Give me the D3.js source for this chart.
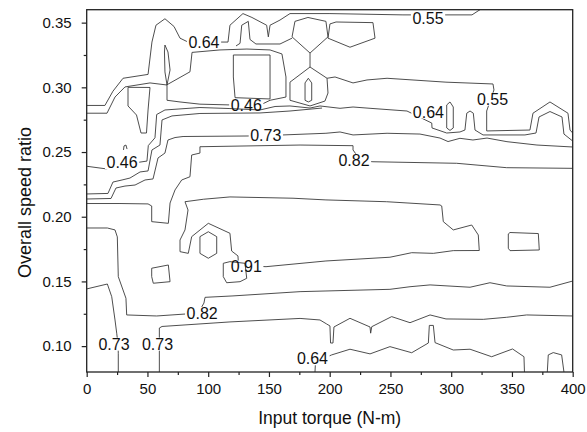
<!DOCTYPE html>
<html>
<head>
<meta charset="utf-8">
<script src="https://cdn.jsdelivr.net/npm/d3@7"></script>
<style>
  html, body { margin: 0; padding: 0; background: #fff; }
  svg { display: block; font-family: Arial, "Liberation Sans", sans-serif; }
</style>
</head>
<body>
<svg id="chart" width="587" height="432"></svg>
<script>
// ---- Axis ticks ----
const torqueTicks = [0, 50, 100, 150, 200, 250, 300, 350, 400];
const torqueMinorTicks = [25, 75, 125, 175, 225, 275, 325, 375];
const ratioTicks = [0.10, 0.15, 0.20, 0.25, 0.30, 0.35];
const ratioMinorTicks = [0.125, 0.175, 0.225, 0.275, 0.325];

// ---- Efficiency iso-lines, points are [input torque (N-m), overall speed ratio] ----
const edgeUpper = [[0,0.286],[15,0.286],[21.6,0.297],[29.9,0.307],[50.5,0.310],[53.7,0.335],[57,0.348],[64.4,0.353],[71.9,0.347],[76.8,0.338],[83.4,0.335],[110.5,0.335],[116.3,0.335],[117.9,0.348],[128.6,0.357],[136,0.354],[148.1,0.348],[149.5,0.339],[150.9,0.348],[159.1,0.352],[167.3,0.357],[200.2,0.357],[260.3,0.356],[296.5,0.356],[317.1,0.356],[323.7,0.360]];
const edgeUpperInner = [[0,0.280],[16.7,0.280],[23.3,0.2925],[31.5,0.3003],[52.1,0.3034],[66.1,0.3018]];
const pocketFlask = [[34,0.300],[52.1,0.2999],[50.5,0.2825],[49.2,0.2647],[44.7,0.2647],[41,0.2786],[34,0.2856],[34,0.300]];
const pocketLens = [[64.4,0.3327],[66.9,0.3273],[68.6,0.3134],[66.1,0.3018],[64.4,0.3119],[64,0.3273],[64.4,0.3327]];
const loopRect = [[66.1,0.302],[85,0.312],[86.7,0.327],[109.7,0.3289],[131.9,0.3296],[150.9,0.3289],[160.7,0.3258],[164,0.308],[164,0.2925],[150.9,0.290],[144.3,0.287],[117.9,0.2864],[93.2,0.287],[76.8,0.2887],[66.1,0.290],[66.1,0.302]];
const innerRect = [[120.7,0.325],[150.9,0.325],[150.9,0.291],[122.1,0.292],[120.7,0.308],[120.7,0.325]];
const topBump = [[122.9,0.332],[126.2,0.334],[127.6,0.348],[133,0.351],[134.4,0.337],[139.3,0.3335],[159.1,0.3335],[169,0.338]];
const hexLeft = [[169,0.339],[171.4,0.351],[182.1,0.354],[196.9,0.351],[198.6,0.339],[183.8,0.3265],[169,0.339]];
const hexRight = [[198.6,0.338],[200.2,0.349],[205.2,0.3505],[235.6,0.350],[237.3,0.338],[216.7,0.331],[198.6,0.338]];
const stem = [[183.8,0.3265],[183.8,0.3157]];
const house = [[167.3,0.304],[183.8,0.3157],[197.8,0.307],[198.6,0.2956],[196.1,0.2894],[183.8,0.2856],[167.3,0.290],[167.3,0.304]];
const houseOval = [[179.7,0.3034],[182.4,0.307],[185.2,0.3034],[185.2,0.290],[182.4,0.2887],[179.7,0.290],[179.7,0.3034]];
const ridge055 = [[197.8,0.307],[204.4,0.308],[219.2,0.3034],[230.7,0.3057],[247.2,0.307],[295.7,0.304],[334.4,0.3026],[335.2,0.298],[329.2,0.2817],[329.2,0.2663],[364.8,0.267],[367.3,0.280],[381.3,0.2887],[396.1,0.280],[397.8,0.267],[400,0.2647]];
const band046 = [[0,0.239],[15.9,0.237],[42.2,0.242],[49.6,0.243],[50.7,0.255],[56.2,0.261],[57.6,0.279],[64.4,0.2825],[93.2,0.2844],[117.9,0.2836],[142.6,0.2825],[155,0.2852],[167.3,0.2856],[183.8,0.284],[192,0.2856],[208.5,0.2838],[219.2,0.2848],[233.2,0.2838],[263.6,0.2817],[284,0.2724],[284.2,0.2686],[296.3,0.2647],[307.2,0.2655],[311.3,0.267],[312.8,0.280],[315.5,0.2817],[318.2,0.280],[319.6,0.267],[326.2,0.2632],[360.7,0.2632],[369.8,0.2647],[372.3,0.2771],[381.3,0.2813],[391.2,0.2771],[392.8,0.2639],[400,0.2585]];
const lensRight = [[296.3,0.2864],[299,0.2887],[301.7,0.2848],[301.7,0.2686],[299,0.2667],[296.3,0.2686],[296.3,0.2864]];
const step1 = [[0,0.2176],[17.5,0.218],[21.6,0.2268],[29.1,0.2284],[35.6,0.2299],[43.9,0.2346],[50.5,0.2354],[53.7,0.2516],[60.3,0.2554],[62,0.2748],[70.2,0.2779],[93.2,0.2798],[142.6,0.2802],[167.3,0.2817],[193.7,0.284]];
const step073 = [[0,0.2137],[20,0.2141],[24.1,0.2222],[31.5,0.2237],[39.8,0.2245],[48,0.2284],[54.6,0.2292],[58.7,0.2454],[64.4,0.2492],[66.9,0.2593],[72.7,0.2612],[79.3,0.262],[132.8,0.2624],[161.6,0.2632],[196.9,0.2645],[208.5,0.2655],[219.2,0.2632],[247.2,0.2645],[274.3,0.2639],[290.8,0.2608],[297.4,0.2581],[307.2,0.2606],[317.9,0.2593],[329.5,0.2608],[345.9,0.258],[370.6,0.2554],[400,0.2539]];
const upper082 = [[0,0.2102],[27.4,0.2102],[50.5,0.2099],[53.5,0.2083],[53.5,0.1962],[67.2,0.1949],[68.6,0.2106],[72.7,0.2207],[78.2,0.2284],[85,0.2309],[86.4,0.2477],[93.2,0.2492],[93.2,0.2541],[175.6,0.2554],[219.2,0.2549],[219.2,0.2516],[225.7,0.2431],[235.6,0.2425],[304.5,0.2413],[345.7,0.2379],[400,0.2374]];
const peak091 = [[80.9,0.2116],[83.4,0.2052],[80.9,0.1898],[76.8,0.182],[76.8,0.173],[83.6,0.1717],[86.4,0.1846],[100.1,0.1949],[117.9,0.1872],[119.3,0.1735],[124.5,0.1697],[124.8,0.165],[136,0.1619],[147.6,0.1614],[196.9,0.1658],[249.6,0.1687],[267.5,0.1722],[285.3,0.1717],[301.7,0.1738],[323.1,0.1739],[322.3,0.1859],[316.9,0.1936],[301.7,0.1898],[293.5,0.1962],[292.2,0.2083],[290.8,0.2091],[246.9,0.2116],[196.9,0.213],[169.8,0.2143],[117.9,0.2153],[96,0.2135],[80.9,0.2116]];
const hexPeak = [[93.2,0.1846],[100.1,0.1884],[107,0.1846],[107,0.1717],[100.1,0.1679],[93.2,0.1717],[93.2,0.1846]];
const spotNear091 = [[112.4,0.164],[117.9,0.1653],[130.3,0.164],[131.7,0.1524],[126.2,0.1498],[115.2,0.149],[112.4,0.1537],[112.4,0.164]];
const spotLeft = [[53.5,0.1602],[67.2,0.1627],[68.6,0.1498],[54.8,0.1486],[53.5,0.1537],[53.5,0.1602]];
const spotRight = [[348.4,0.1878],[371.7,0.187],[372.5,0.1743],[348.4,0.1738],[347,0.1756],[347,0.1867],[348.4,0.1878]];
const lower082 = [[0,0.1913],[17,0.1913],[23.3,0.1898],[25.2,0.1844],[26,0.1537],[32.3,0.137],[32.9,0.1241],[57.6,0.1233],[80.9,0.1248],[93.2,0.1279],[96.5,0.1333],[97.4,0.1377],[120.4,0.1388],[175.6,0.1421],[249.6,0.1439],[266.1,0.1459],[282.6,0.1473],[315.5,0.1455],[331.9,0.149],[345.7,0.1465],[381.3,0.1455],[400,0.1503]];
const left073 = [[0,0.1442],[17,0.148],[20.6,0.1382],[23.3,0.1202],[24.7,0.110],[25.8,0.101],[26,0.0945],[26,0.08]];
const mid073 = [[59.8,0.08],[59.8,0.097],[59.8,0.114],[62,0.1152],[117.9,0.1187],[175.6,0.1214],[192,0.1202],[197.5,0.1171],[200.2,0.1156],[200.7,0.1024],[202.7,0.1024],[203.5,0.1148],[216.7,0.1215],[233.2,0.1148],[233.7,0.110],[234.6,0.115],[251,0.1228],[266.1,0.1181],[282.6,0.1241],[295.7,0.121],[326.4,0.1207],[345.7,0.1223],[362.1,0.1241],[400,0.1233]];
const low064 = [[187.9,0.08],[188.3,0.0877],[201.6,0.0932],[216.7,0.0976],[233.2,0.094],[249.6,0.0996],[267.5,0.0949],[281.2,0.1024],[282,0.116],[285.3,0.116],[286.7,0.1027],[301.7,0.097],[315.5,0.0976],[333.3,0.0918],[350.5,0.0978],[359.9,0.0918],[360.3,0.08]];
const bumpRight = [[379.1,0.08],[379.9,0.0932],[384,0.095],[390.9,0.0932],[392.8,0.08]];
const tinyArc = [[30.3,0.2516],[30.7,0.2547],[32.3,0.2554],[33.2,0.2523]];

// ---- Level labels placed on the iso-lines ----
const contourLabels = [
  { text: "0.64", torque: 96.5,  ratio: 0.335,  line: "edgeUpper" },
  { text: "0.55", torque: 280.9, ratio: 0.3536, line: "edgeUpper" },
  { text: "0.46", torque: 131.3, ratio: 0.2864, line: "loopRect" },
  { text: "0.46", torque: 29.1,  ratio: 0.242,  line: "band046" },
  { text: "0.64", torque: 281.2, ratio: 0.2811, line: "band046" },
  { text: "0.55", torque: 334,   ratio: 0.291,  line: "ridge055" },
  { text: "0.73", torque: 147.4, ratio: 0.2626, line: "step073" },
  { text: "0.82", torque: 220,   ratio: 0.2439, line: "upper082" },
  { text: "0.91", torque: 131.3, ratio: 0.1614, line: "peak091" },
  { text: "0.82", torque: 95,    ratio: 0.1255, line: "lower082" },
  { text: "0.73", torque: 22.5,  ratio: 0.1017, line: "left073" },
  { text: "0.73", torque: 58.3,  ratio: 0.1017, line: "mid073" },
  { text: "0.64", torque: 185.8, ratio: 0.0904, line: "low064" }
];

// Table of the iso-lines for drawing
const isoLines = {
  edgeUpper, edgeUpperInner, pocketFlask, pocketLens, loopRect, innerRect, topBump,
  hexLeft, hexRight, stem, house, houseOval, ridge055, band046, lensRight, step1,
  step073, upper082, peak091, hexPeak, spotNear091, spotLeft, spotRight, lower082,
  left073, mid073, low064, bumpRight, tinyArc
};

// ---- Layout ----
const W = 587, H = 432;
const plot = { left: 86.7, right: 572.7, top: 9.7, bottom: 372 };

const svg = d3.select("#chart");
const defs = svg.append("defs");

const x = d3.scaleLinear().domain([0, 400]).range([plot.left, plot.right]);
const y = d3.scaleLinear().domain([0.08, 0.36]).range([plot.bottom, plot.top]);

defs.append("clipPath").attr("id", "plotClip")
  .append("rect")
  .attr("x", plot.left).attr("y", plot.top)
  .attr("width", plot.right - plot.left).attr("height", plot.bottom - plot.top);

const lineGen = d3.line().x(d => x(d[0])).y(d => y(d[1]));

// Iso-lines
const gLines = svg.append("g").attr("clip-path", "url(#plotClip)");
const paths = {};
Object.entries(isoLines).forEach(([name, pts]) => {
  paths[name] = gLines.append("path")
    .attr("d", lineGen(pts))
    .attr("fill", "none")
    .attr("stroke", "#3a3a3a")
    .attr("stroke-width", 0.9)
    .attr("stroke-linejoin", "round");
});

// Level labels
const gLabels = svg.append("g");
const labelNodes = contourLabels.map(l => {
  const t = gLabels.append("text")
    .attr("x", x(l.torque))
    .attr("y", y(l.ratio))
    .attr("dy", "0.36em")
    .attr("text-anchor", "middle")
    .attr("font-size", 16)
    .attr("fill", "#111")
    .text(l.text);
  return { l, box: t.node().getBBox() };
});

// Break each labelled line where its labels sit
const byLine = d3.group(labelNodes, d => d.l.line);
byLine.forEach((items, name) => {
  const m = defs.append("mask").attr("id", "mask_" + name)
    .attr("maskUnits", "userSpaceOnUse")
    .attr("x", 0).attr("y", 0).attr("width", W).attr("height", H);
  m.append("rect").attr("x", 0).attr("y", 0).attr("width", W).attr("height", H).attr("fill", "#fff");
  items.forEach(({ box }) => {
    m.append("rect")
      .attr("x", box.x - 1.5).attr("y", box.y + 2)
      .attr("width", box.width + 3).attr("height", box.height - 4)
      .attr("fill", "#000");
  });
  paths[name].attr("mask", "url(#mask_" + name + ")");
});

// ---- Axes ----
const fmtRatio = d3.format(".2f");

const xAxis = svg.append("g")
  .attr("transform", `translate(0,${plot.bottom})`)
  .call(d3.axisBottom(x).tickValues(torqueTicks).tickSize(5).tickPadding(6).tickFormat(d3.format("d")));
const xMinor = svg.append("g")
  .attr("transform", `translate(0,${plot.bottom})`)
  .call(d3.axisBottom(x).tickValues(torqueMinorTicks).tickSize(3).tickFormat(""));

const yAxis = svg.append("g")
  .attr("transform", `translate(${plot.left},0)`)
  .call(d3.axisLeft(y).tickValues(ratioTicks).tickSize(5).tickPadding(10).tickFormat(fmtRatio));
const yMinor = svg.append("g")
  .attr("transform", `translate(${plot.left},0)`)
  .call(d3.axisLeft(y).tickValues(ratioMinorTicks).tickSize(3).tickFormat(""));

[xAxis, xMinor, yAxis, yMinor].forEach(g => {
  g.select(".domain").remove();
  g.selectAll(".tick line").attr("stroke", "#222").attr("stroke-width", 1.2);
  g.selectAll(".tick text")
    .attr("font-family", "Arial, 'Liberation Sans', sans-serif")
    .attr("font-size", 15)
    .attr("fill", "#111");
});

// Frame
svg.append("rect")
  .attr("x", plot.left).attr("y", plot.top)
  .attr("width", plot.right - plot.left).attr("height", plot.bottom - plot.top)
  .attr("fill", "none").attr("stroke", "#222").attr("stroke-width", 1.3);

// Axis titles
svg.append("text")
  .attr("x", (plot.left + plot.right) / 2)
  .attr("y", 424)
  .attr("text-anchor", "middle")
  .attr("font-size", 17.5)
  .attr("fill", "#111")
  .text("Input torque (N-m)");

svg.append("text")
  .attr("transform", `translate(30.5,202.5) rotate(-90)`)
  .attr("text-anchor", "middle")
  .attr("font-size", 18)
  .attr("fill", "#111")
  .text("Overall speed ratio");
</script>
</body>
</html>
